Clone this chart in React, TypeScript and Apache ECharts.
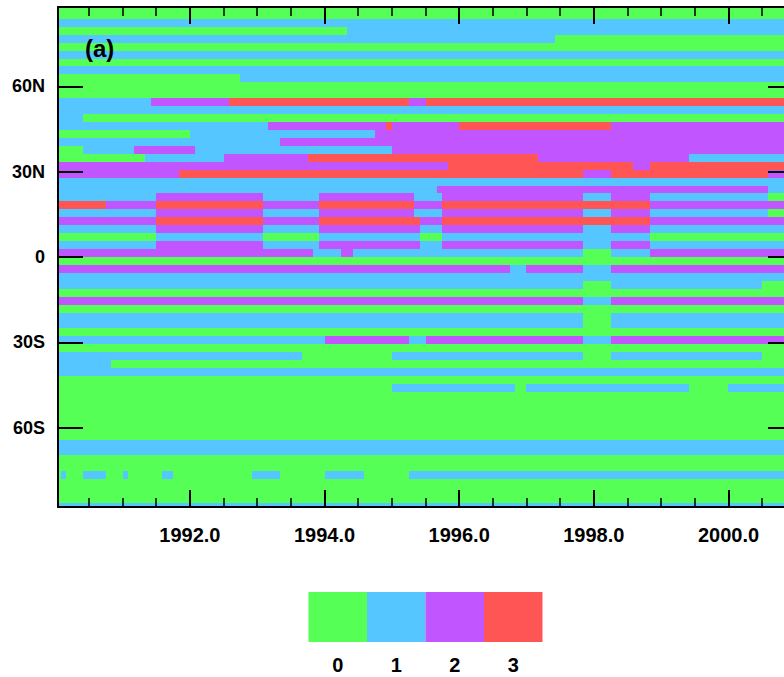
import React, { useEffect, useRef } from "react";
import * as echarts from "echarts";

// ---- colours / colour bar ----
const classColors = ["#55FF55", "#55C6FF", "#C155FF", "#FF5555"];
const classLabels = ["0", "1", "2", "3"];

// ---- time axis (monthly, Jan 1990 .. Dec 2000) ----
const startYear = 1990;
const monthCount = 132;
const xMin = 1990 + 0.5 / 12;
const xMax = 1990 + 131.5 / 12;
const xMajorTicks = [1992, 1994, 1996, 1998, 2000];
const xMinorTicks = [1990.5, 1991, 1991.5, 1992.5, 1993, 1993.5, 1994.5, 1995, 1995.5, 1996.5, 1997, 1997.5, 1998.5, 1999, 1999.5, 2000.5];

// ---- latitude axis (T42 Gaussian latitudes, north half) ----
const latNorth = [87.8638, 85.0965, 82.3129, 79.5256, 76.7369, 73.9475, 71.1577, 68.3678, 65.5776, 62.7873, 59.997, 57.2066, 54.4162, 51.6257, 48.8352, 46.0447, 43.2542, 40.4636, 37.6731, 34.8825, 32.0919, 29.3014, 26.5108, 23.7202, 20.9296, 18.139, 15.3484, 12.5578, 9.7671, 6.9765, 4.1859, 1.3953];
const latitudes = [...latNorth, ...latNorth.slice().reverse().map((v) => -v)];
const yTicks = [-60, -30, 0, 30, 60];
const yTickLabels = ["60S", "30S", "0", "30N", "60N"];

// ---- class values: each row (north -> south) is a list of [startMonth, class] runs ----
const runsPolarNorth = [
  [[0, 0]],
  [[0, 0]],
  [[0, 1]],
  [[0, 0], [52, 1]],
  [[0, 1], [89, 0]],
  [[0, 0]],
  [[0, 1]],
  [[0, 0]],
  [[0, 1]],
  [[0, 0], [33, 1]],
  [[0, 0]],
  [[0, 0]],
];
const runsMidNorth = [
  [[0, 1], [17, 2], [31, 3], [63, 2], [66, 3]],
  [[0, 1]],
  [[0, 1], [5, 0]],
  [[0, 1], [38, 2], [59, 3], [60, 2], [72, 3], [99, 2]],
  [[0, 0], [24, 1], [57, 2]],
  [[0, 1], [40, 2]],
  [[0, 0], [5, 1], [14, 2], [25, 1], [60, 2]],
  [[0, 0], [16, 1], [30, 2], [45, 3], [86, 2], [113, 1]],
  [[0, 2], [70, 3], [103, 2], [106, 3]],
  [[0, 2], [22, 3], [94, 2], [99, 3], [127, 2]],
];
const runsTropicsNorth = [
  [[0, 1]],
  [[0, 1], [68, 2], [127, 1]],
  [[0, 1], [18, 2], [37, 1], [47, 2], [64, 1], [69, 2], [94, 1], [99, 2], [106, 1], [127, 0]],
  [[0, 3], [9, 2], [18, 3], [37, 2], [47, 3], [64, 2], [69, 3], [106, 2]],
  [[0, 1], [18, 2], [37, 1], [47, 2], [64, 1], [69, 2], [94, 1], [99, 2], [106, 1], [127, 0]],
  [[0, 2], [18, 3], [37, 2], [47, 3], [65, 2], [69, 3], [106, 2]],
  [[0, 1], [18, 2], [37, 1], [47, 2], [65, 1], [69, 2], [94, 1], [99, 2], [106, 1]],
  [[0, 0], [18, 1], [37, 0], [47, 1], [65, 0], [69, 1], [106, 0]],
  [[0, 1], [18, 2], [37, 1], [47, 2], [65, 1], [69, 2], [94, 1], [99, 2], [106, 1]],
  [[0, 2], [46, 1], [51, 2], [53, 1], [94, 0], [99, 1], [106, 2]],
];
const runsTropicsSouth = [
  [[0, 0]],
  [[0, 2], [81, 1], [84, 2], [94, 1], [99, 2]],
  [[0, 1]],
  [[0, 1], [94, 0], [99, 1], [126, 0]],
  [[0, 0]],
  [[0, 2], [94, 1], [99, 2]],
  [[0, 0]],
  [[0, 1], [94, 0], [99, 1]],
  [[0, 1], [94, 0], [99, 1]],
  [[0, 0]],
  [[0, 1], [48, 2], [63, 1], [66, 2], [94, 1], [99, 2]],
  [[0, 0]],
  [[0, 1], [44, 0], [60, 1], [94, 0], [99, 1], [126, 0]],
  [[0, 1], [10, 0]],
  [[0, 1]],
  [[0, 0]],
];
const runsSouth = [
  [[0, 0], [60, 1], [82, 0], [84, 1], [113, 0], [120, 1]],
  [[0, 0]],
  [[0, 0]],
  [[0, 0]],
  [[0, 0]],
  [[0, 0]],
  [[0, 0]],
  [[0, 1]],
  [[0, 1]],
  [[0, 0]],
  [[0, 0]],
  [[0, 0], [1, 1], [2, 0], [5, 1], [9, 0], [12, 1], [13, 0], [19, 1], [21, 0], [35, 1], [40, 0], [48, 1], [55, 0], [63, 1]],
  [[0, 0]],
  [[0, 0]],
  [[0, 0]],
  [[0, 1]],
];

const allRows = [...runsPolarNorth, ...runsMidNorth, ...runsTropicsNorth, ...runsTropicsSouth, ...runsSouth];

function buildCells() {
  const cells: number[][] = [];
  const n = latitudes.length;
  allRows.forEach((runs, i) => {
    const lat = latitudes[i];
    const top = i === 0 ? lat + (lat - latitudes[1]) / 2 : (latitudes[i - 1] + lat) / 2;
    const bot = i === n - 1 ? lat - (latitudes[n - 2] - lat) / 2 : (lat + latitudes[i + 1]) / 2;
    runs.forEach((run, j) => {
      const s = run[0];
      const e = j + 1 < runs.length ? runs[j + 1][0] : monthCount;
      cells.push([startYear + s / 12, startYear + e / 12, top, bot, run[1]]);
    });
  });
  return cells;
}

const FONT = '"Liberation Sans", Arial, Helvetica, sans-serif';

export default function App() {
  const ref = useRef<HTMLDivElement>(null);
  useEffect(() => {
    if (!ref.current) return;
    const chart = echarts.init(ref.current, undefined, { renderer: "svg" });
    const cells = buildCells();
    const axisBase = (pos: string) => ({
      type: "value",
      min: xMin,
      max: xMax,
      position: pos,
      z: 10,
      splitLine: { show: false },
    });
    const cbLeft = 308.5;
    const cbW = 58.5;
    const graphics: any[] = [];
    classColors.forEach((c, k) => {
      graphics.push({
        type: "rect",
        z: 100,
        shape: { x: cbLeft + k * cbW, y: 592, width: cbW, height: 50 },
        style: { fill: c },
      });
      graphics.push({
        type: "text",
        z: 100,
        x: cbLeft + k * cbW + cbW / 2,
        y: 665,
        style: {
          text: classLabels[k],
          font: `bold 20px ${FONT}`,
          fill: "#000",
          align: "center",
          verticalAlign: "middle",
          textAlign: "center",
          textVerticalAlign: "middle",
        },
      });
    });
    graphics.push({
      type: "text",
      z: 100,
      x: 85,
      y: 48,
      style: {
        text: "(a)",
        font: `bold 24px ${FONT}`,
        fill: "#000",
        align: "left",
        verticalAlign: "middle",
        textAlign: "left",
        textVerticalAlign: "middle",
      },
    });

    chart.setOption({
      animation: false,
      backgroundColor: "#fff",
      grid: { left: 58, top: 7, width: 735, height: 500, containLabel: false, outerBoundsMode: "none" },
      xAxis: [
        {
          ...axisBase("bottom"),
          axisLine: { show: true, onZero: false, lineStyle: { color: "#000", width: 2 } },
          axisTick: { show: true, inside: true, length: 17, customValues: xMajorTicks, lineStyle: { color: "#000", width: 2 } },
          axisLabel: {
            show: true,
            customValues: xMajorTicks,
            formatter: (v: number) => v.toFixed(1),
            fontFamily: FONT,
            fontWeight: "bold",
            fontSize: 20,
            color: "#000",
            margin: 18,
          },
        },
        {
          ...axisBase("bottom"),
          axisLine: { show: false, onZero: false },
          axisTick: { show: true, inside: true, length: 9, customValues: xMinorTicks, lineStyle: { color: "#000", width: 1.5 } },
          axisLabel: { show: false },
        },
        {
          ...axisBase("top"),
          axisLine: { show: true, onZero: false, lineStyle: { color: "#000", width: 2 } },
          axisTick: { show: true, inside: true, length: 17, customValues: xMajorTicks, lineStyle: { color: "#000", width: 2 } },
          axisLabel: { show: false },
        },
        {
          ...axisBase("top"),
          axisLine: { show: false, onZero: false },
          axisTick: { show: true, inside: true, length: 9, customValues: xMinorTicks, lineStyle: { color: "#000", width: 1.5 } },
          axisLabel: { show: false },
        },
      ],
      yAxis: [
        {
          type: "value",
          min: -87.8638,
          max: 87.8638,
          position: "left",
          z: 10,
          splitLine: { show: false },
          axisLine: { show: true, onZero: false, lineStyle: { color: "#000", width: 2 } },
          axisTick: { show: true, inside: true, length: 25, customValues: yTicks, lineStyle: { color: "#000", width: 2 } },
          axisLabel: {
            show: true,
            customValues: yTicks,
            formatter: (v: number) => {
              const idx = yTicks.indexOf(Math.round(v));
              return idx >= 0 ? yTickLabels[idx] : "";
            },
            fontFamily: FONT,
            fontWeight: "bold",
            fontSize: 18,
            color: "#000",
            margin: 13,
          },
        },
        {
          type: "value",
          min: -87.8638,
          max: 87.8638,
          position: "right",
          z: 10,
          splitLine: { show: false },
          axisLine: { show: true, onZero: false, lineStyle: { color: "#000", width: 2 } },
          axisTick: { show: true, inside: true, length: 25, customValues: yTicks, lineStyle: { color: "#000", width: 2 } },
          axisLabel: { show: false },
        },
      ],
      series: [
        {
          type: "custom",
          xAxisIndex: 0,
          yAxisIndex: 0,
          clip: true,
          encode: { x: [0, 1], y: [2, 3] },
          data: cells,
          renderItem: (params: any, api: any) => {
            const p0 = api.coord([api.value(0), api.value(2)]);
            const p1 = api.coord([api.value(1), api.value(3)]);
            const x0 = Math.round(p0[0]);
            const x1 = Math.round(p1[0]);
            const y0 = Math.round(p0[1]);
            const y1 = Math.round(p1[1]);
            const cs = params.coordSys;
            const shape = echarts.graphic.clipRectByRect(
              { x: x0, y: y0, width: x1 - x0, height: y1 - y0 },
              { x: cs.x, y: cs.y, width: cs.width, height: cs.height }
            );
            if (!shape) return null;
            return {
              type: "rect",
              shape,
              style: { fill: classColors[api.value(4)], stroke: null },
            };
          },
        },
      ],
      graphic: graphics,
    });
    return () => chart.dispose();
  }, []);
  return (
    <div style={{ position: "absolute", left: 0, top: 0, width: 784, height: 677, overflow: "hidden", background: "#fff" }}>
      <div ref={ref} style={{ position: "absolute", left: 0, top: 0, width: 810, height: 677 }} />
    </div>
  );
}
